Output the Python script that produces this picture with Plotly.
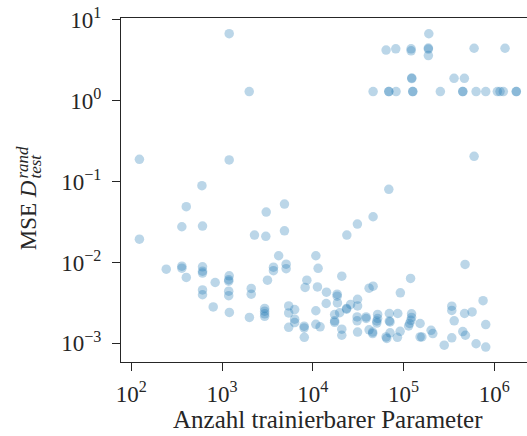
import plotly.graph_objects as go

# Number of trainable parameters per model
params = [
    123, 123, 1200, 1995, 1200, 601, 404, 361, 610, 3070,
    4880, 4880, 2280, 3040, 4210, 243, 361, 361, 610, 610,
    610, 404, 841, 1200, 1186, 1186, 3690, 3690, 5090, 5090,
    3170, 8610, 8240, 11270, 610, 610, 1186, 1186, 2099, 2099,
    800, 1205, 2004, 2953, 2953, 2953, 2953, 5430, 6320, 5430,
    6320, 6320, 5430, 8040, 8040, 8070, 10820, 10820, 12050, 10820,
    11460, 20890, 119700, 14160, 18580, 18580, 41780, 46240, 92300, 14070,
    18710, 17420, 17420, 17420, 19770, 23600, 23600, 26120, 31190, 31190,
    20890, 20890, 30830, 30830, 31190, 38730, 38730, 41780, 45710, 45710,
    51880, 51880, 50800, 50800, 69800, 69800, 71100, 86500, 64300, 65400,
    71100, 85700, 91800, 122700, 122700, 120500, 116700, 113800, 152400, 152400,
    159200, 201400, 210400, 281200, 340500, 340500, 362000, 471000, 570000, 753000,
    806000, 340500, 450000, 481000, 631000, 806000, 477000, 600000, 68900, 46240,
    31050, 23750, 190100, 64300, 82200, 121300, 121300, 188000, 188000, 188000,
    600000, 1315000, 123300, 123300, 360600, 468900, 46240, 68900, 68900, 82800,
    126500, 126500, 254700, 450000, 450000, 631000, 806000, 1081000, 1158000, 1259000,
    1750000, 1750000,
]

# Test MSE on the random test set
mse = [
    0.188, 0.0194, 6.7, 1.29, 0.1845, 0.0887, 0.0488, 0.0276, 0.0281, 0.0419,
    0.0527, 0.0246, 0.0218, 0.0210, 0.0121, 0.00826, 0.0090, 0.0085, 0.00883, 0.0078,
    0.00738, 0.00652, 0.00565, 0.00683, 0.00612, 0.00587, 0.00875, 0.00792, 0.00953, 0.00838,
    0.00604, 0.00604, 0.00491, 0.00499, 0.00458, 0.00399, 0.00441, 0.00388, 0.00478, 0.00405,
    0.00282, 0.00241, 0.00209, 0.0027, 0.0025, 0.00232, 0.00216, 0.0029, 0.00262, 0.00238,
    0.00199, 0.00181, 0.00158, 0.00163, 0.00155, 0.00119, 0.00253, 0.00172, 0.0016, 0.0121,
    0.00845, 0.00677, 0.00634, 0.00429, 0.00405, 0.00383, 0.00481, 0.00509, 0.00421, 0.00311,
    0.00316, 0.00227, 0.0019, 0.00182, 0.00239, 0.00264, 0.0027, 0.00303, 0.00351, 0.0029,
    0.0015, 0.00126, 0.00212, 0.0019, 0.00138, 0.00212, 0.00203, 0.00147, 0.00138, 0.00132,
    0.00228, 0.00203, 0.00189, 0.00178, 0.00234, 0.00189, 0.00184, 0.00234, 0.0012, 0.00115,
    0.00135, 0.00119, 0.00141, 0.00232, 0.00209, 0.00193, 0.00176, 0.00164, 0.00176, 0.0012,
    0.0012, 0.00145, 0.00132, 0.00095, 0.00288, 0.00255, 0.0019, 0.00234, 0.00245, 0.00337,
    0.00171, 0.00117, 0.0014, 0.00126, 0.00099, 0.0009, 0.00945, 0.205, 0.08, 0.0367,
    0.0298, 0.0218, 6.69, 4.2, 4.36, 4.36, 4.12, 4.45, 4.33, 3.6,
    4.43, 4.43, 1.87, 1.90, 1.88, 1.88, 1.29, 1.29, 1.29, 1.29,
    1.29, 1.29, 1.29, 1.29, 1.29, 1.29, 1.29, 1.29, 1.29, 1.29,
    1.29, 1.29,
]

# Decade ticks
x_tickvals = [1e2, 1e3, 1e4, 1e5, 1e6]
x_ticktext = ["10<sup>2</sup>", "10<sup>3</sup>", "10<sup>4</sup>", "10<sup>5</sup>", "10<sup>6</sup>"]
y_tickvals = [1e-3, 1e-2, 1e-1, 1e0, 1e1]
y_ticktext = ["10<sup>\u22123</sup>", "10<sup>\u22122</sup>", "10<sup>\u22121</sup>",
              "10<sup>0</sup>", "10<sup>1</sup>"]

FONT = "Liberation Serif"
INK = "#262626"

fig = go.Figure()
fig.add_trace(go.Scatter(
    x=params, y=mse, mode="markers",
    marker=dict(size=9.5, color="rgba(31,119,180,0.3)", line=dict(width=0)),
    showlegend=False,
))

axis_common = dict(
    type="log", tickmode="array",
    showgrid=False, zeroline=False, showline=True, linecolor=INK, linewidth=1.2,
    ticks="outside", ticklen=8, tickwidth=1.2, tickcolor=INK,
    tickfont=dict(family=FONT, size=23, color=INK), automargin=False,
)

fig.update_layout(
    width=527, height=436,
    margin=dict(l=121, r=0, t=18, b=74),
    paper_bgcolor="white", plot_bgcolor="white",
    font=dict(family=FONT, color=INK),
    xaxis=dict(range=[1.887, 6.361], mirror=True, ticklabelstandoff=3,
               tickvals=x_tickvals, ticktext=x_ticktext, **axis_common),
    yaxis=dict(range=[-3.230, 1.020], ticklabelstandoff=6,
               tickvals=y_tickvals, ticktext=y_ticktext, **axis_common),
)

# x-axis title
fig.add_annotation(text="Anzahl trainierbarer Parameter", xref="paper", yref="paper",
                   x=0.5, y=-0.166, xanchor="center", yanchor="middle", showarrow=False,
                   xshift=4, font=dict(family=FONT, size=25, color=INK))

# y-axis title: "MSE D" with stacked super-/subscript
fig.add_annotation(text="MSE <i>D</i>", xref="paper", yref="paper", x=0, y=0.319,
                   xanchor="center", yanchor="bottom", xshift=-93, textangle=-90,
                   showarrow=False, font=dict(family=FONT, size=23, color=INK))
fig.add_annotation(text="<i>rand</i>", xref="paper", yref="paper", x=0, y=0.526,
                   xanchor="center", yanchor="bottom", xshift=-98, textangle=-90,
                   showarrow=False, font=dict(family=FONT, size=17, color=INK))
fig.add_annotation(text="<i>test</i>", xref="paper", yref="paper", x=0, y=0.526,
                   xanchor="center", yanchor="bottom", xshift=-85, textangle=-90,
                   showarrow=False, font=dict(family=FONT, size=17, color=INK))

fig.write_html("out.html")
